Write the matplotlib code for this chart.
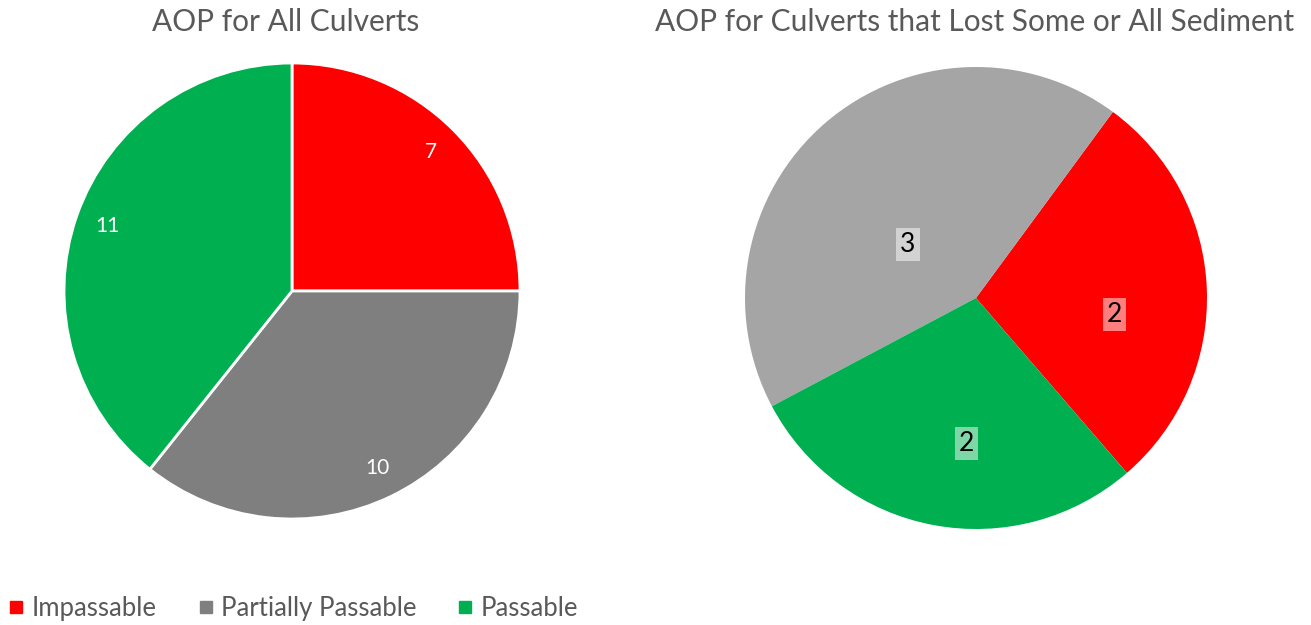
import matplotlib.pyplot as plt
from matplotlib.lines import Line2D

categories = ["Impassable", "Partially Passable", "Passable"]
all_culverts = [7, 10, 11]
lost_sediment = [2, 3, 2]

red = "#FF0000"
green = "#00B050"
text_grey = "#595959"

plt.rcParams['font.family'] = ['Lato', 'DejaVu Sans']

W, H = 1311, 625
fig = plt.figure(figsize=(W / 100, H / 100), dpi=100)


def pie_axes(cx, cy, r):
    ax = fig.add_axes([(cx - r) / W, 1 - (cy + r) / H, 2 * r / W, 2 * r / H])
    ax.set_xlim(-1, 1)
    ax.set_ylim(-1, 1)
    ax.axis("off")
    return ax


# left pie
ax1 = pie_axes(292, 291, 228)
wedges, texts, autos = ax1.pie(all_culverts, colors=[red, "#7F7F7F", green],
                               startangle=90, counterclock=False, radius=1,
                               autopct=lambda p: "%d" % round(p * sum(all_culverts) / 100),
                               pctdistance=0.86,
                               wedgeprops=dict(edgecolor="white", linewidth=2),
                               textprops=dict(color="white", fontsize=15))
ax1.set_xlim(-1, 1)
ax1.set_ylim(-1, 1)

# right pie
ax2 = pie_axes(976, 298, 231)
wedges2, texts2, autos2 = ax2.pie(lost_sediment, colors=[red, "#A5A5A5", green],
                                  startangle=-49.2, counterclock=True, radius=1,
                                  autopct=lambda p: "%d" % round(p * sum(lost_sediment) / 100),
                                  pctdistance=0.6,
                                  textprops=dict(color="black", fontsize=19))
ax2.set_xlim(-1, 1)
ax2.set_ylim(-1, 1)
# Excel nudges the labels a bit
label_pos = [(0.6, -0.07), (-0.295, 0.23), (-0.04, -0.63)]
for t, pos in zip(autos2, label_pos):
    t.set_position(pos)
    t.set_bbox(dict(facecolor="white", alpha=0.5, edgecolor="none",
                    boxstyle="square,pad=0.15"))

fig.text(286 / W, 1 - 22 / H, "AOP for All Culverts", ha="center", va="center",
         fontsize=21.5, color=text_grey)
fig.text(975 / W, 1 - 22 / H, "AOP for Culverts that Lost Some or All Sediment",
         ha="center", va="center", fontsize=21.5, color=text_grey)

handles = [Line2D([], [], marker="s", linestyle="none", markersize=8, color=c)
           for c in [red, "#7F7F7F", green]]
fig.legend(handles, categories, loc="lower left", bbox_to_anchor=(-0.015, -0.031),
           ncol=3, frameon=False, fontsize=18.5, labelcolor=text_grey,
           handletextpad=0.1, columnspacing=1.4, handlelength=1.0)

fig.savefig("out.png", dpi=100)
